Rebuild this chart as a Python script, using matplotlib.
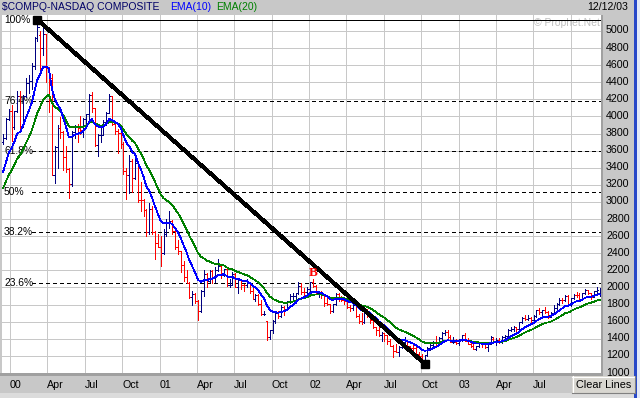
import numpy as np
import pandas as pd
import matplotlib
matplotlib.use('Agg')
import matplotlib.pyplot as plt
from matplotlib.collections import LineCollection
from matplotlib.patches import Rectangle
from matplotlib.lines import Line2D
import matplotlib.transforms as mtransforms

plt.rcParams['font.family'] = ['Liberation Sans', 'DejaVu Sans']

# ---------------- data (weekly bars, NASDAQ Composite) ----------------
first_week = '1999-12-15'
opens = [3700, 3753, 3969, 4069, 3882, 4064, 4235, 3887, 4244, 4395,
         4411, 4590, 4914, 4950, 4798, 4963, 4573, 4446, 3321, 3643,
         3860, 3817, 3529, 3390, 3205, 3813, 3874, 3860, 3845, 3966,
         4024, 4246, 4095, 3663, 3787, 3789, 3930, 4042, 4234, 3914,
         3835, 3803, 3673, 3361, 3316, 3483, 3278, 3451, 3028, 3027,
         2904, 2645, 2917, 2653, 2517, 2470, 2407, 2626, 2770, 2781,
         2660, 2470, 2425, 2262, 2117, 2052, 1890, 1928, 1840, 1720,
         1961, 2163, 2075, 2192, 2107, 2199, 2251, 2149, 2215, 2028,
         2034, 2161, 2004, 2084, 2029, 2029, 2066, 1956, 1867, 1917,
         1805, 1687, 1610, 1423, 1499, 1605, 1703, 1671, 1768, 1745,
         1828, 1898, 1903, 1930, 2021, 1953, 1946, 1987, 2059, 2022,
         1930, 1937, 1911, 1818, 1805, 1724, 1802, 1929, 1868, 1851,
         1845, 1770, 1756, 1796, 1663, 1613, 1600, 1741, 1662, 1615,
         1535, 1505, 1440, 1463, 1448, 1374, 1319, 1262, 1247, 1306,
         1361, 1380, 1315, 1295, 1291, 1221, 1199, 1139, 1210, 1287,
         1331, 1360, 1359, 1411, 1468, 1479, 1422, 1362, 1363, 1348,
         1387, 1448, 1376, 1342, 1321, 1283, 1310, 1349, 1337, 1305,
         1340, 1400, 1369, 1383, 1358, 1425, 1434, 1502, 1520, 1538,
         1510, 1596, 1646, 1627, 1644, 1625, 1664, 1733, 1708, 1731,
         1715, 1653, 1702, 1765, 1810, 1858, 1855, 1905, 1792, 1880,
         1915, 1912, 1865, 1932, 1970, 1930, 1893, 1960, 1930]
highs = [3790, 3980, 4090, 4131, 4070, 4300, 4300, 4250, 4450, 4490,
         4620, 4930, 5132, 5000, 5080, 4970, 4580, 4500, 3660, 3900,
         3990, 3830, 3650, 3400, 3830, 3900, 3910, 4000, 3980, 4030,
         4260, 4290, 4100, 3800, 3900, 3960, 4050, 4260, 4240, 3950,
         3850, 3830, 3700, 3400, 3550, 3500, 3500, 3460, 3230, 3030,
         2920, 2990, 2950, 2660, 2620, 2600, 2680, 2800, 2892, 2790,
         2700, 2560, 2430, 2310, 2200, 2060, 1960, 1930, 1850, 1970,
         2200, 2170, 2200, 2210, 2240, 2330, 2260, 2220, 2230, 2100,
         2180, 2170, 2090, 2100, 2040, 2100, 2070, 1990, 1920, 1920,
         1850, 1720, 1610, 1500, 1620, 1720, 1730, 1790, 1780, 1840,
         1920, 1940, 1940, 2060, 2050, 1990, 2000, 2070, 2098, 2030,
         1960, 1960, 1920, 1880, 1810, 1810, 1930, 1930, 1900, 1880,
         1860, 1790, 1820, 1800, 1690, 1700, 1750, 1750, 1670, 1620,
         1540, 1540, 1480, 1470, 1450, 1400, 1330, 1340, 1310, 1400,
         1425, 1390, 1320, 1340, 1300, 1250, 1220, 1210, 1300, 1340,
         1370, 1430, 1420, 1480, 1500, 1500, 1440, 1420, 1400, 1400,
         1450, 1467, 1410, 1350, 1360, 1320, 1360, 1350, 1350, 1350,
         1430, 1420, 1410, 1410, 1430, 1440, 1510, 1540, 1550, 1540,
         1600, 1660, 1680, 1680, 1650, 1680, 1740, 1760, 1740, 1770,
         1720, 1710, 1790, 1815, 1880, 1880, 1910, 1910, 1880, 1920,
         1950, 1930, 1940, 1980, 1975, 1940, 1960, 2000, 1990]
lows = [3680, 3740, 3960, 3711, 3850, 4050, 3870, 3880, 4230, 4280,
        4320, 4550, 4880, 4550, 4720, 4400, 4050, 3321, 3227, 3400,
        3750, 3380, 3350, 3042, 3190, 3750, 3700, 3800, 3760, 3880,
        3970, 4050, 3650, 3540, 3700, 3780, 3900, 4040, 3900, 3790,
        3570, 3630, 3330, 3040, 3110, 3120, 3270, 3000, 2900, 2840,
        2600, 2630, 2620, 2330, 2470, 2251, 2390, 2600, 2700, 2630,
        2450, 2390, 2180, 2080, 2050, 1880, 1790, 1820, 1619, 1710,
        1900, 2010, 2060, 2050, 2070, 2190, 2110, 2130, 2020, 2010,
        2030, 2000, 1940, 1980, 1960, 2010, 1930, 1860, 1840, 1790,
        1680, 1680, 1387, 1400, 1470, 1580, 1640, 1660, 1680, 1740,
        1820, 1850, 1850, 1920, 1920, 1900, 1940, 1940, 2010, 1920,
        1890, 1880, 1780, 1800, 1700, 1710, 1800, 1840, 1840, 1810,
        1760, 1720, 1740, 1660, 1580, 1570, 1590, 1650, 1590, 1530,
        1440, 1430, 1370, 1370, 1340, 1310, 1192, 1240, 1200, 1290,
        1350, 1310, 1250, 1260, 1210, 1185, 1130, 1108, 1200, 1270,
        1290, 1320, 1340, 1400, 1440, 1400, 1360, 1350, 1340, 1330,
        1370, 1370, 1340, 1300, 1280, 1270, 1300, 1300, 1290, 1253,
        1340, 1360, 1330, 1350, 1350, 1400, 1430, 1490, 1490, 1480,
        1500, 1590, 1620, 1620, 1600, 1610, 1650, 1690, 1660, 1700,
        1640, 1650, 1700, 1740, 1800, 1820, 1840, 1780, 1780, 1870,
        1890, 1840, 1860, 1920, 1920, 1870, 1890, 1930, 1900]
closes = [3753, 3969, 4069, 3882, 4064, 4235, 3887, 4244, 4395, 4411,
          4590, 4914, 5048, 4798, 4963, 4573, 4446, 3321, 3643, 3860,
          3817, 3529, 3390, 3205, 3813, 3874, 3860, 3845, 3966, 4024,
          4246, 4095, 3663, 3787, 3789, 3930, 4042, 4234, 3914, 3835,
          3803, 3673, 3361, 3316, 3483, 3278, 3451, 3028, 3027, 2904,
          2645, 2917, 2653, 2517, 2470, 2407, 2626, 2770, 2781, 2660,
          2470, 2425, 2262, 2117, 2052, 1890, 1928, 1840, 1720, 1961,
          2163, 2075, 2192, 2107, 2199, 2251, 2149, 2215, 2028, 2034,
          2161, 2004, 2084, 2029, 2027, 2066, 1956, 1867, 1917, 1805,
          1687, 1695, 1423, 1499, 1605, 1703, 1671, 1768, 1745, 1828,
          1898, 1903, 1930, 2021, 1953, 1946, 1987, 2059, 2022, 1930,
          1937, 1911, 1818, 1805, 1724, 1802, 1929, 1868, 1851, 1845,
          1770, 1756, 1796, 1663, 1613, 1600, 1741, 1662, 1615, 1535,
          1505, 1440, 1463, 1448, 1374, 1319, 1262, 1247, 1306, 1361,
          1380, 1315, 1295, 1291, 1221, 1199, 1139, 1210, 1287, 1331,
          1360, 1359, 1411, 1468, 1479, 1422, 1362, 1363, 1348, 1387,
          1448, 1376, 1342, 1321, 1283, 1310, 1349, 1337, 1305, 1340,
          1421, 1369, 1383, 1358, 1425, 1434, 1502, 1520, 1538, 1510,
          1596, 1646, 1627, 1644, 1625, 1664, 1733, 1708, 1731, 1715,
          1653, 1702, 1765, 1810, 1858, 1855, 1905, 1792, 1880, 1915,
          1912, 1865, 1932, 1970, 1930, 1893, 1960, 1969, 1949]

ema10_start = 3350
ema20_start = 3160

quarter_dates = ['2000-01-01', '2000-04-01', '2000-07-01', '2000-10-01',
                 '2001-01-01', '2001-04-01', '2001-07-01', '2001-10-01',
                 '2002-01-01', '2002-04-01', '2002-07-01', '2002-10-01',
                 '2003-01-01', '2003-04-01', '2003-07-01', '2003-10-01']
# the last quarter label lies under the "Clear Lines" button in the reference
quarter_labels = ['00', 'Apr', 'Jul', 'Oct', '01', 'Apr', 'Jul', 'Oct',
                  '02', 'Apr', 'Jul', 'Oct', '03', 'Apr', 'Jul', '']
price_ticks = list(range(1000, 5001, 200))
fib_ratios = [1.0, 0.764, 0.618, 0.5, 0.382, 0.236]
fib_labels = ['100%', '76.4%', '61.8%', '50%', '38.2%', '23.6%']
swing_high_idx = 12
swing_low_idx = 147
marker_idx = 108
marker_text = 'B'

# ---------------- figure ----------------
W, H = 640, 398
GRAY = '#c8c8c8'


def fx(px):
    return px / W


def fy(py):
    return 1 - py / H


fig = plt.figure(figsize=(6.4, 3.98), dpi=100, facecolor=GRAY)
ax = fig.add_axes([fx(2.2), fy(373), (600.8 - 2.2) / W, (373 - 15) / H])
ax.set_facecolor('white')
for s in ax.spines.values():
    s.set_visible(False)

x0 = pd.Timestamp('2000-01-01')
dates = pd.date_range(first_week, periods=len(closes), freq='7D')
xd = np.asarray((dates - x0).days, dtype=float)
xl = (pd.Timestamp('1999-12-13') - x0).days
xr = (pd.Timestamp('2003-12-13') - x0).days
ax.set_xlim(xl, xr)
ax.set_ylim(1000, 5187)

qd = [(pd.Timestamp(s) - x0).days for s in quarter_dates]
ax.set_xticks(qd)
ax.set_xticklabels(quarter_labels)
ax.set_yticks(price_ticks)
ax.set_yticklabels([str(p) for p in price_ticks])
ax.yaxis.tick_right()
ax.tick_params(axis='both', length=0, labelsize=7.7, colors='black')
ax.tick_params(axis='y', pad=3.8)
ax.tick_params(axis='x', pad=4.8)
for t in ax.get_xticklabels():
    t.set_ha('left')
off = mtransforms.ScaledTranslation(0, 0.015, fig.dpi_scale_trans)
for t in ax.get_yticklabels():
    t.set_transform(t.get_transform() + off)
ax.set_axisbelow(True)
ax.grid(True, color=GRAY, lw=0.72, antialiased=False)

# OHLC bars
tw = 2.8
segs, cols = [], []
for xi, o, h, l, c in zip(xd, opens, highs, lows, closes):
    col = '#ff0000' if c < o else '#000080'
    segs += [[(xi, l), (xi, h)], [(xi - tw, o), (xi, o)], [(xi, c), (xi + tw, c)]]
    cols += [col] * 3
ax.add_collection(LineCollection(segs, colors=cols, linewidths=0.7,
                                 antialiased=False, zorder=2))


# EMAs
def ema(vals, start, n):
    k = 2.0 / (n + 1)
    out = np.empty(len(vals))
    out[0] = start
    for i in range(1, len(vals)):
        out[i] = out[i - 1] + k * (vals[i] - out[i - 1])
    return out


ax.plot(xd, ema(closes, ema20_start, 20), color='#008000', lw=0.55,
        antialiased=False, zorder=2.4)
ax.plot(xd, ema(closes, ema10_start, 10), color='#0000ff', lw=0.55,
        antialiased=False, zorder=2.5)

# Fibonacci levels
hi = highs[swing_high_idx]
lo = lows[swing_low_idx]
for r, lab in zip(fib_ratios, fib_labels):
    lvl = lo + r * (hi - lo)
    if r == 1.0:
        ax.plot([xd[swing_high_idx], xr], [lvl, lvl], color='black', lw=0.72,
                antialiased=False, zorder=1.5)
    else:
        ax.plot([xd[10], xr], [lvl, lvl], color='black', lw=0.72,
                ls=(0, (4, 4)), antialiased=False, zorder=1.5)
    ax.text(xl + 4.5, lvl, lab, fontsize=7.4, ha='left', va='center',
            color='black', zorder=1.8)

# trend line
ax.plot([xd[swing_high_idx], xd[swing_low_idx]], [hi, lo], color='black',
        lw=2.2, antialiased=False, zorder=3, solid_capstyle='butt')
ax.plot([xd[swing_high_idx], xd[swing_low_idx]], [hi, lo], ls='none',
        marker='s', ms=5.8, color='black', zorder=3.2)

ax.text(xd[marker_idx], 2170, marker_text, color='#ff0000', fontsize=9.5,
        fontweight='bold', family=['Liberation Serif', 'DejaVu Serif'],
        ha='center', va='center', zorder=4)

ax.text(xr - 2, 5000 + 7.5 / 0.0855, '\u00a9 Prophet.Net', color='#c0c0c0',
        fontsize=7.5, ha='right', va='center', zorder=1)

# header
fig.text(fx(2), fy(7.5), r'\$COMPQ-NASDAQ COMPOSITE', color='#000066',
         fontsize=7.5, ha='left', va='center')
fig.text(fx(170), fy(7.5), 'EMA(10)', color='#0000ff', fontsize=7.5,
         ha='left', va='center')
fig.text(fx(216), fy(7.5), 'EMA(20)', color='#008000', fontsize=7.5,
         ha='left', va='center')
fig.text(fx(628.5), fy(7.5), '12/12/03', color='black', fontsize=7.6,
         ha='right', va='center')


# frame bands
def frect(x1, y1, x2, y2, color, z=5):
    fig.add_artist(Rectangle((fx(x1), fy(y2)), (x2 - x1) / W, (y2 - y1) / H,
                             transform=fig.transFigure, facecolor=color,
                             edgecolor='none', zorder=z))


frect(600.8, 15, 603.3, 376, '#a0a0a0')
frect(0, 373, 603.3, 376, '#a0a0a0')
frect(0, 393, 634, 398, '#dcdcdc')
frect(634.3, 0, 636.8, 398, '#2848c8')
frect(636.8, 0, 640, 398, '#e4eaf8')

# Clear Lines button
frect(572, 376, 635, 393, '#d8d6d0', z=6)
for (xa, ya, xb, yb, c) in [(572, 376.5, 635, 376.5, 'white'),
                            (572.5, 376, 572.5, 393, 'white'),
                            (572, 392.5, 635, 392.5, '#808080'),
                            (634.5, 376, 634.5, 393, '#808080')]:
    fig.add_artist(Line2D([fx(xa), fx(xb)], [fy(ya), fy(yb)],
                          transform=fig.transFigure, color=c, lw=0.8,
                          zorder=7))
fig.text(fx(603.5), fy(384.8), 'Clear Lines', color='black', fontsize=7.8,
         ha='center', va='center', zorder=8)

fig.savefig('out.png', dpi=100, facecolor=GRAY)
